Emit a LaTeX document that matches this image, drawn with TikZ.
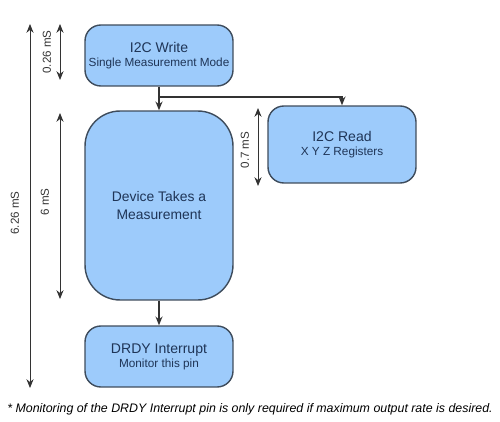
\documentclass[tikz,border=0pt]{standalone}
\usepackage{fontspec}
\setmainfont{Liberation Sans}
\usetikzlibrary{arrows.meta}

\definecolor{boxfill}{HTML}{9DCBFB}
\definecolor{boxline}{HTML}{3E4C5C}
\definecolor{boxtext}{HTML}{1F3557}
\definecolor{dimline}{HTML}{333333}

\tikzset{stepbox/.style={draw=boxline,line width=0.8pt,fill=boxfill,rounded corners=9pt,text=boxtext,align=center,minimum width=2.96cm,inner sep=0pt,font=\fontsize{8}{9}\selectfont}}
\tikzset{flow/.style={-{Stealth[length=5pt,width=4pt]},line width=0.7pt,dimline}}
\tikzset{dim/.style={{Stealth[length=5pt,width=4pt]}-{Stealth[length=5pt,width=4pt]},line width=0.5pt,dimline}}
\tikzset{dimlabel/.style={rotate=90,font=\fontsize{6.6}{8}\selectfont,text=dimline,inner sep=0pt}}
\newcommand{\subline}[1]{{\fontsize{6.7}{8}\selectfont #1}}

\begin{document}
\begin{tikzpicture}[x=0.02cm,y=-0.02cm]
        \useasboundingbox (0,0) rectangle (500,422);
        % draw the boxes
        \node[stepbox,minimum height=1.22cm] (write) at (159,55.5) {I2C Write\\[-1pt]\subline{Single Measurement Mode}};
        \node[stepbox,minimum height=3.78cm,rounded corners=20pt,font=\fontsize{7.9}{10.3}\selectfont] (device) at (159,205.5) {Device Takes a\\ Measurement};
        \node[stepbox,minimum height=1.54cm] (read) at (342,144.5) {I2C Read\\[-1pt]\subline{X Y Z Registers}};
        \node[stepbox,minimum height=1.22cm] (drdy) at (159,356.5) {DRDY Interrupt\\[-1pt]\subline{Monitor this pin}};
        % draw the flow
        \coordinate (split) at (159,97);
        \draw[flow] (write.south) -- (device.north);
        \draw[flow] (split) -| (read.north);
        \draw[flow] (device.south) -- (drdy.north);
        % draw the timing
        \draw[dim] (60,24) -- (60,80);
        \node[dimlabel] (twrite) at (47,52) {0.26 mS};
        \draw[dim] (60,113) -- (60,299);
        \node[dimlabel] (tdevice) at (45,202) {6 mS};
        \draw[dim] (30,24) -- (30,388);
        \node[dimlabel] (ttotal) at (15,213) {6.26 mS};
        \draw[dim] (258,108) -- (258,186);
        \node[dimlabel] (tread) at (245,150) {0.7 mS};
        % the footnote
        \node[font=\fontsize{7.05}{8}\selectfont\itshape,inner sep=0pt] (note) at (250,409) {* Monitoring of the DRDY Interrupt pin is only required if maximum output rate is desired.};
\end{tikzpicture}
\end{document}
